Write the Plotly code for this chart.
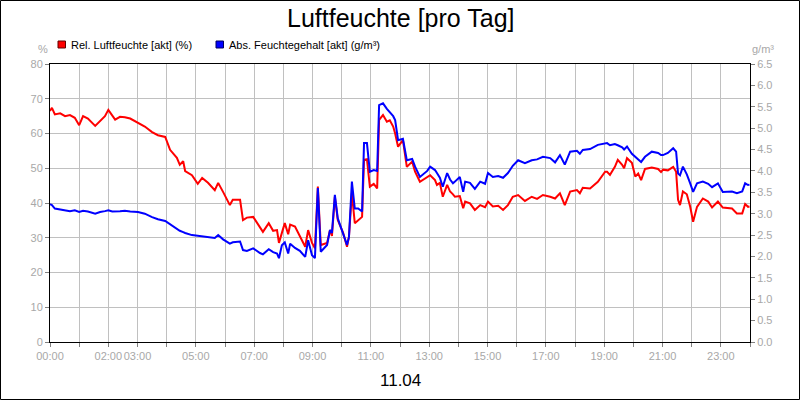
import plotly.graph_objects as go

# ---------------- data ----------------
times = ["00:00","00:04","00:10","00:21","00:31","00:41","00:51","01:00","01:08","01:18",
         "01:33","01:43","01:53","02:00","02:08","02:14","02:24","02:34","02:45","03:01",
         "03:15","03:30","03:42","03:57","04:07","04:21","04:27","04:34","04:38","04:52",
         "05:04","05:13","05:25","05:39","05:46","05:56","06:10","06:16","06:31","06:37",
         "06:45","06:58","07:12","07:18","07:30","07:39","07:47","07:51","07:57","08:03",
         "08:10","08:14","08:24","08:34","08:45","08:51","08:59","09:05","09:11","09:17",
         "09:30","09:36","09:40","09:46","09:52","10:03","10:11","10:15","10:21","10:27",
         "10:34","10:42","10:46","10:52","10:58","11:06","11:13","11:17","11:25","11:33",
         "11:39","11:46","11:50","11:56","12:06","12:14","12:25","12:31","12:41","12:56",
         "13:02","13:12","13:16","13:22","13:28","13:37","13:43","13:49","13:53","14:03",
         "14:10","14:14","14:24","14:34","14:45","14:55","15:01","15:11","15:22","15:32",
         "15:42","15:52","16:03","16:17","16:31","16:42","16:54","17:09","17:19","17:29",
         "17:39","17:50","18:04","18:10","18:16","18:31","18:47","19:02","19:06","19:12",
         "19:22","19:28","19:37","19:41","19:47","19:57","20:04","20:10","20:16","20:24",
         "20:38","20:51","20:57","21:01","21:11","21:22","21:28","21:32","21:36","21:42",
         "21:50","21:57","22:03","22:11","22:23","22:34","22:42","22:54","23:04","23:23",
         "23:33","23:44","23:50","23:56","23:59"]

rel_humidity = [66.5,67.4,65.5,65.8,65.0,65.3,64.5,62.4,65.0,64.3,
                62.2,63.5,65.0,66.8,65.2,64.0,64.8,64.7,64.3,63.0,
                62.0,60.4,59.5,59.0,55.3,53.0,51.0,52.0,49.2,48.0,
                45.5,47.2,45.8,43.7,45.8,43.2,39.4,40.9,40.9,35.1,
                35.8,36.0,33.2,31.7,34.2,32.0,32.2,28.5,31.4,34.2,
                31.0,33.8,33.2,30.3,27.4,32.2,28.5,27.0,44.7,27.9,
                28.5,32.2,30.5,41.8,35.1,31.4,27.4,30.3,42.8,34.2,
                35.0,36.0,52.4,52.6,44.7,45.5,44.2,63.9,65.3,63.4,
                63.8,62.0,60.0,56.2,58.1,50.4,51.9,49.0,46.1,47.5,
                48.0,46.6,45.2,45.8,41.8,45.2,43.3,42.5,41.8,42.0,
                38.5,40.4,39.9,38.0,39.4,38.8,40.4,39.0,39.2,38.0,
                39.4,41.8,42.3,40.6,41.8,41.2,42.3,41.8,41.3,42.8,
                39.4,43.3,43.7,42.8,44.4,44.2,46.1,49.0,49.0,48.1,
                50.4,52.4,51.0,50.0,52.9,51.6,47.6,48.5,46.6,49.8,
                50.2,49.8,48.9,49.6,49.4,50.4,49.0,40.9,39.4,43.3,
                42.5,38.9,34.6,38.9,41.3,40.4,38.7,40.4,38.7,38.4,
                37.0,37.0,39.7,38.9,39.0]

abs_humidity = [3.22,3.20,3.12,3.10,3.08,3.06,3.08,3.04,3.07,3.05,
                3.00,3.04,3.06,3.08,3.05,3.05,3.06,3.07,3.05,3.04,
                3.00,2.92,2.87,2.83,2.75,2.64,2.60,2.57,2.55,2.50,
                2.48,2.47,2.45,2.43,2.50,2.40,2.30,2.33,2.35,2.15,
                2.13,2.19,2.08,2.05,2.17,2.10,2.07,1.96,2.26,2.33,
                2.07,2.30,2.20,2.13,1.99,2.38,2.03,1.96,3.60,2.11,
                2.27,2.62,2.55,3.44,2.89,2.53,2.27,2.45,3.75,3.12,
                3.12,3.05,4.65,4.65,3.98,4.02,4.00,5.54,5.58,5.45,
                5.38,5.28,5.19,4.72,4.75,4.25,4.28,4.10,3.86,4.00,
                4.10,4.02,3.95,3.84,3.63,3.95,3.80,3.71,3.75,3.86,
                3.51,3.75,3.72,3.58,3.75,3.70,3.95,3.86,3.88,3.84,
                3.95,4.12,4.25,4.18,4.25,4.27,4.33,4.30,4.20,4.37,
                4.15,4.45,4.47,4.40,4.49,4.51,4.61,4.63,4.65,4.60,
                4.63,4.60,4.55,4.50,4.57,4.40,4.33,4.28,4.21,4.33,
                4.45,4.42,4.37,4.37,4.42,4.53,4.45,3.94,3.90,4.10,
                3.92,3.71,3.51,3.71,3.75,3.70,3.62,3.71,3.51,3.52,
                3.48,3.52,3.71,3.67,3.68]

x_tick_values = list(range(0, 25))
x_tick_labels = ["00:00", "", "02:00", "03:00", "", "05:00", "", "07:00", "", "09:00",
                 "", "11:00", "", "13:00", "", "15:00", "", "17:00", "", "19:00",
                 "", "21:00", "", "23:00", ""]

title_text = "Luftfeuchte [pro Tag]"
date_text = "11.04"
series_names = ["Rel. Luftfeuchte [akt] (%)", "Abs. Feuchtegehalt [akt] (g/m³)"]

# ---------------- figure ----------------
hours = [int(t[:2]) + int(t[3:]) / 60 for t in times]

W, H = 800, 400
L, R, T, B = 50, 50, 64, 58
PW, PH = W - L - R, H - T - B

def px(x):
    return (x - L) / PW

def py(y):
    return (H - B - y) / PH

FONT = "Liberation Sans, Arial, sans-serif"
TICK_COLOR = "#a8a8a8"
GRID = "#c0c0c0"

fig = go.Figure()
fig.add_trace(go.Scatter(x=hours, y=abs_humidity, yaxis="y2", mode="lines",
                         line=dict(color="#0000ff", width=2), name=series_names[1],
                         showlegend=False))
fig.add_trace(go.Scatter(x=hours, y=rel_humidity, mode="lines",
                         line=dict(color="#ff0000", width=2), name=series_names[0],
                         showlegend=False))

axis_common = dict(showline=True, linecolor="black", linewidth=1, ticks="outside",
                   ticklen=4, tickcolor="#808080", zeroline=False, automargin=False,
                   tickangle=0,
                   tickfont=dict(family=FONT, size=11, color=TICK_COLOR))

fig.update_layout(
    width=W, height=H,
    margin=dict(l=L, r=R, t=T, b=B, autoexpand=False),
    paper_bgcolor="white", plot_bgcolor="white",
    font=dict(family=FONT),
    showlegend=False,
    xaxis=dict(range=[0, 24], tickmode="array", tickvals=x_tick_values,
               ticktext=x_tick_labels, showgrid=True, gridcolor=GRID, gridwidth=1,
               mirror=True, **axis_common),
    yaxis=dict(range=[0, 80], dtick=10, tick0=0, showgrid=True, gridcolor=GRID,
               gridwidth=1, **axis_common),
    yaxis2=dict(range=[0, 6.5], dtick=0.5, tick0=0, tickformat=".1f", overlaying="y",
                side="right", showgrid=False, **axis_common),
)

shapes = [
    # outer frame
    dict(type="rect", xref="paper", yref="paper", x0=px(0.5), x1=px(799.5),
         y0=py(399.5), y1=py(0.5), line=dict(color="black", width=1)),
    # legend squares
    dict(type="rect", xref="paper", yref="paper", x0=px(58), x1=px(65.5),
         y0=py(48), y1=py(41), fillcolor="#ff0000", line=dict(color="#600000", width=1)),
    dict(type="rect", xref="paper", yref="paper", x0=px(216), x1=px(223.5),
         y0=py(48), y1=py(41), fillcolor="#0000ff", line=dict(color="#000060", width=1)),
]
fig.update_layout(shapes=shapes)

ann = [
    dict(text=title_text, x=0.5, y=py(18), font=dict(size=25, color="black", family=FONT)),
    dict(text=date_text, x=0.5, y=py(380), font=dict(size=17, color="black", family=FONT)),
    dict(text=series_names[0], x=px(69), y=py(44.5), xanchor="left",
         font=dict(size=11, color="black", family=FONT)),
    dict(text=series_names[1], x=px(226.5), y=py(44.5), xanchor="left",
         font=dict(size=11, color="black", family=FONT)),
    dict(text="%", x=px(43), y=py(49), font=dict(size=11, color=TICK_COLOR, family=FONT)),
    dict(text="g/m³", x=px(763), y=py(49), font=dict(size=11, color=TICK_COLOR, family=FONT)),
]
for a in ann:
    a.setdefault("xanchor", "center")
    a.update(xref="paper", yref="paper", yanchor="middle", showarrow=False)
fig.update_layout(annotations=ann)

fig.write_html("out.html", config={"displayModeBar": False},
               post_script="document.body.style.margin='0';")
